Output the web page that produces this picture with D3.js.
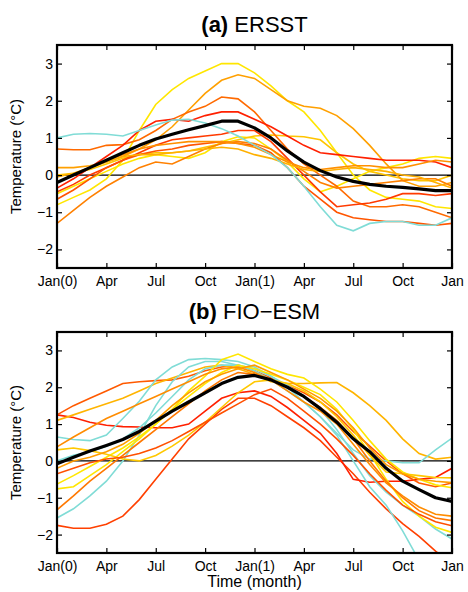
<!DOCTYPE html>
<html>
<head>
<meta charset="utf-8">
<script src="https://cdn.jsdelivr.net/npm/d3@7/dist/d3.min.js"></script>
<style>
body { margin: 0; background: #fff; }
svg { font-family: "Liberation Sans", Arial, sans-serif; }
</style>
</head>
<body>
<div id="main"></div>
<script>
// months 0..24, Jan(0) .. Jan(2)
let monthTicks = [0, 3, 6, 9, 12, 15, 18, 21, 24];
let monthLabels = ["Jan(0)", "Apr", "Jul", "Oct", "Jan(1)", "Apr", "Jul", "Oct", "Jan"];
let tempTicks = [-2, -1, 0, 1, 2, 3];

// (a) ERSST composites
let ersstColors = ["#FFE600", "#FFE600", "#FFC400", "#FFA000", "#FF6A00", "#FF2000",
                   "#FF3A00", "#FF8000", "#FF5500", "#FFB000", "#FF9000", "#80DCD6"];
let ersst = [
  [-0.8,-0.6,-0.4,-0.1,0.4,1.2,1.9,2.3,2.6,2.8,3.0,3.0,2.75,2.4,2.0,1.7,1.2,0.6,0.0,-0.4,-0.6,-0.65,-0.7,-0.85,-0.9],
  [-0.5,-0.3,-0.1,0.1,0.3,0.45,0.55,0.5,0.45,0.6,0.9,1.03,1.0,0.7,0.35,-0.1,-0.45,-0.3,-0.1,0.1,0.2,0.3,0.45,0.5,0.45],
  [0.0,0.05,0.15,0.3,0.45,0.55,0.6,0.6,0.65,0.75,0.85,0.95,1.05,1.08,1.05,1.03,0.95,0.6,0.3,0.1,0.0,-0.1,-0.15,-0.15,0.0],
  [0.2,0.2,0.25,0.35,0.5,0.7,0.95,1.3,1.75,2.2,2.55,2.7,2.6,2.3,2.0,1.85,1.8,1.6,1.25,0.8,0.3,-0.15,-0.3,-0.3,-0.2],
  [0.7,0.68,0.68,0.8,0.82,0.95,1.2,1.5,1.7,1.85,2.1,2.05,1.7,1.2,0.7,0.3,0.0,-0.3,-0.7,-0.85,-0.85,-0.8,-0.85,-1.0,-1.15],
  [-0.35,-0.1,0.2,0.5,0.8,1.2,1.45,1.5,1.45,1.6,1.7,1.7,1.5,1.3,1.05,0.8,0.6,0.55,0.5,0.45,0.4,0.4,0.4,0.35,0.2],
  [-0.45,-0.25,0.0,0.2,0.4,0.6,0.8,0.95,1.0,1.05,1.1,1.2,1.2,0.9,0.45,0.0,-0.45,-0.85,-0.8,-0.75,-0.65,-0.5,-0.5,-0.55,-0.5],
  [-1.3,-0.95,-0.6,-0.3,-0.05,0.2,0.35,0.3,0.5,0.7,0.85,0.9,0.85,0.7,0.4,0.1,-0.2,-0.35,-0.3,-0.25,-0.2,-0.15,-0.1,-0.1,-0.3],
  [-0.65,-0.4,-0.1,0.2,0.4,0.55,0.65,0.7,0.8,0.85,0.9,0.85,0.8,0.6,0.2,-0.3,-0.65,-1.0,-1.15,-1.2,-1.25,-1.25,-1.3,-1.35,-1.3],
  [-0.05,0.05,0.2,0.35,0.5,0.55,0.55,0.6,0.65,0.7,0.75,0.7,0.55,0.45,0.3,0.15,0.1,0.15,0.2,0.15,0.1,0.0,-0.05,-0.2,-0.35],
  [-0.2,0.0,0.2,0.4,0.55,0.7,0.8,0.85,0.9,0.9,0.9,0.85,0.75,0.55,0.35,0.2,0.15,0.2,0.25,0.25,0.2,0.2,0.3,0.4,0.35],
  [1.0,1.1,1.12,1.1,1.05,1.2,1.35,1.48,1.5,1.4,1.25,1.05,0.8,0.55,0.2,-0.3,-0.85,-1.35,-1.5,-1.3,-1.25,-1.25,-1.35,-1.35,-1.15]
];
let ersstMean = [-0.2,0.0,0.2,0.4,0.6,0.8,0.97,1.1,1.22,1.33,1.45,1.45,1.27,1.0,0.65,0.35,0.12,-0.05,-0.17,-0.25,-0.3,-0.33,-0.37,-0.42,-0.42];

// (b) FIO-ESM composites
let fioColors = ["#FF4000", "#FF2000", "#FF5A00", "#FFB400", "#80DCD6", "#80DCD6", "#80DCD6",
                 "#FFE600", "#FFE600", "#FFC800", "#FF8C00", "#FF7800", "#FF5000", "#FF9C00"];
let fio = [
  [-1.75,-1.83,-1.83,-1.72,-1.5,-1.05,-0.5,0.05,0.6,1.0,1.4,1.7,1.7,1.5,1.2,0.9,0.55,0.1,-0.35,-0.85,-1.3,-1.7,-2.05,-2.45,-2.8],
  [1.25,1.18,1.05,0.97,0.93,0.92,0.9,0.9,1.0,1.35,1.7,1.85,1.9,1.75,1.45,1.1,0.75,0.2,-0.5,-0.58,-0.55,-0.55,-0.5,-0.45,-0.2],
  [1.25,1.5,1.7,1.9,2.1,2.15,2.18,2.2,2.3,2.45,2.55,2.6,2.45,2.25,2.05,1.85,1.6,1.25,0.8,0.4,0.0,-0.35,-0.6,-0.7,-0.6],
  [1.1,1.25,1.4,1.55,1.7,1.9,2.1,2.25,2.4,2.55,2.6,2.5,2.35,2.15,2.1,2.1,2.12,2.13,1.85,1.5,1.1,0.6,0.2,0.05,0.1],
  [0.65,0.58,0.55,0.7,1.15,1.62,2.2,2.55,2.75,2.78,2.75,2.7,2.55,2.3,2.0,1.6,1.2,0.75,0.3,0.05,0.0,-0.05,-0.05,0.3,0.62],
  [-1.55,-1.3,-0.95,-0.55,0.0,0.7,1.5,2.15,2.55,2.7,2.7,2.6,2.45,2.2,1.9,1.6,1.2,0.7,0.0,-0.7,-1.2,-1.9,-2.7,-3.2,-3.6],
  [0.0,0.15,0.25,0.4,0.6,0.9,1.3,1.75,2.2,2.5,2.6,2.6,2.5,2.3,2.05,1.75,1.4,0.85,0.2,-0.4,-0.85,-1.2,-1.5,-1.85,-2.12],
  [-0.63,-0.4,-0.15,0.1,0.35,0.65,1.0,1.4,1.75,2.1,2.4,2.6,2.5,2.35,2.2,2.0,1.8,1.4,0.85,0.2,-0.5,-1.1,-1.5,-1.8,-1.94],
  [-0.76,-0.7,-0.4,-0.1,0.25,0.6,1.0,1.4,1.9,2.3,2.75,2.9,2.7,2.5,2.35,2.25,1.95,1.6,1.1,0.55,0.05,-0.3,-0.5,-0.65,-0.73],
  [0.3,0.35,0.28,0.18,0.05,0.0,0.15,0.4,0.7,1.05,1.45,1.85,2.15,2.2,2.1,1.9,1.6,1.2,0.7,0.15,-0.3,-0.35,-0.4,-0.45,-0.46],
  [0.38,0.65,0.9,1.15,1.35,1.55,1.75,1.95,2.15,2.35,2.5,2.55,2.4,2.2,1.9,1.6,1.35,1.0,0.45,-0.1,-0.6,-0.95,-1.25,-1.45,-1.5],
  [-1.33,-0.95,-0.55,-0.2,0.15,0.5,0.85,1.2,1.55,1.9,2.2,2.4,2.35,2.2,2.0,1.75,1.45,1.1,0.6,0.0,-0.55,-1.0,-1.35,-1.55,-1.62],
  [-0.35,-0.2,-0.05,0.05,0.1,0.2,0.35,0.55,0.8,1.05,1.3,1.55,1.8,1.95,1.7,1.35,1.0,0.6,0.15,-0.35,-0.8,-1.2,-1.45,-1.65,-1.76],
  [-0.2,0.0,0.1,0.25,0.45,0.75,1.1,1.5,1.85,2.15,2.35,2.5,2.6,2.4,2.2,1.95,1.7,1.35,0.9,0.35,-0.1,-0.35,-0.5,-0.55,-0.59]
];
let fioMean = [-0.08,0.1,0.27,0.42,0.58,0.8,1.08,1.35,1.6,1.85,2.1,2.27,2.32,2.2,2.0,1.75,1.42,1.05,0.6,0.25,-0.2,-0.55,-0.78,-1.0,-1.1];

let width = 468, height = 592;
let left = 57, right = 452;

let svg = d3.select("#main")
    .append("svg")
    .attr("width", width)
    .attr("height", height);

var xScale = d3.scaleLinear().domain([0, 24]).range([0, right - left]);

function panel(top, bottom, series, colors, mean, tag, name, id){
    let h = bottom - top;
    let yScale = d3.scaleLinear().domain([-2.5, 3.5]).range([h, 0]);
    let g = svg.append("g").attr("transform", `translate(${left},${top})`);

    g.append("clipPath").attr("id", id)
        .append("rect").attr("width", right - left).attr("height", h);

    let line = d3.line()
        .x((d, i) => xScale(i))
        .y(d => yScale(d));

    let plot = g.append("g").attr("clip-path", `url(#${id})`);

    plot.append("line")
        .attr("x1", 0).attr("x2", right - left)
        .attr("y1", yScale(0)).attr("y2", yScale(0))
        .attr("stroke", "#000").attr("stroke-width", 1.2);

    plot.selectAll("path.member").data(series)
        .enter().append("path")
        .attr("class", "member")
        .attr("d", line)
        .attr("fill", "none")
        .attr("stroke", (d, i) => colors[i])
        .attr("stroke-width", 1.6);

    plot.append("path")
        .attr("d", line(mean))
        .attr("fill", "none")
        .attr("stroke", "#000")
        .attr("stroke-width", 3.2)
        .attr("stroke-linejoin", "round");

    // axes, ticks pointing inward
    let xb = g.append("g").attr("transform", `translate(0,${h})`)
        .call(d3.axisBottom(xScale).tickValues(monthTicks)
            .tickFormat((d, i) => monthLabels[i]).tickSizeInner(-5).tickSizeOuter(0).tickPadding(8));
    let xt = g.append("g")
        .call(d3.axisTop(xScale).tickValues(monthTicks).tickFormat("").tickSizeInner(-5).tickSizeOuter(0));
    let yl = g.append("g")
        .call(d3.axisLeft(yScale).tickValues(tempTicks)
            .tickFormat(d => d < 0 ? "\u2212" + Math.abs(d) : d).tickSizeInner(-5).tickSizeOuter(0).tickPadding(4));
    let yr = g.append("g").attr("transform", `translate(${right - left},0)`)
        .call(d3.axisRight(yScale).tickValues(tempTicks).tickFormat("").tickSizeInner(-5).tickSizeOuter(0));

    [xb, xt, yl, yr].forEach(a => {
        a.select(".domain").remove();
        a.selectAll(".tick line").attr("stroke", "#000").attr("stroke-width", 1.2);
        a.selectAll("text").attr("fill", "#000").style("font-size", "14px");
    });

    g.append("rect")
        .attr("width", right - left).attr("height", h)
        .attr("fill", "none").attr("stroke", "#000").attr("stroke-width", 2.2);

    let t = svg.append("text")
        .attr("x", (left + right) / 2).attr("y", top - 13)
        .attr("text-anchor", "middle")
        .style("font-size", "22px");
    t.append("tspan").attr("font-weight", "bold").text(tag);
    t.append("tspan").text(" " + name);

    svg.append("text")
        .attr("transform", `translate(21,${top + h / 2}) rotate(-90)`)
        .attr("text-anchor", "middle")
        .style("font-size", "15px")
        .text("Temperature (\u00B0C)");
}

panel(45, 268, ersst, ersstColors, ersstMean, "(a)", "ERSST", "clipA");
panel(332, 553, fio, fioColors, fioMean, "(b)", "FIO\u2212ESM", "clipB");

svg.append("text")
    .attr("x", (left + right) / 2).attr("y", 587)
    .attr("text-anchor", "middle")
    .style("font-size", "16px")
    .text("Time (month)");
</script>
</body>
</html>
